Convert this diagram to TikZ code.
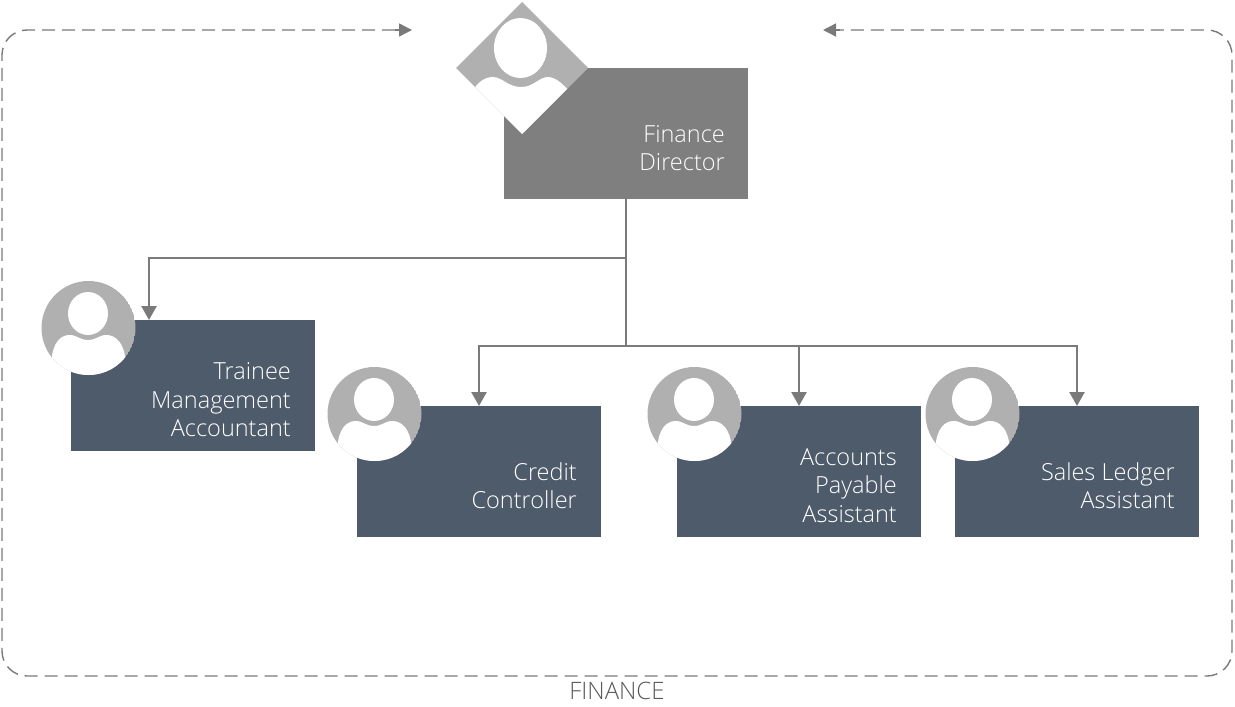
\documentclass[tikz,border=0pt]{standalone}
\usepackage{fontspec}
\setmainfont{Open Sans}[UprightFont=* Light]
\usetikzlibrary{arrows.meta,calc}
\definecolor{slate}{HTML}{4E5B6B}
\definecolor{dirgrey}{HTML}{7F7F7F}
\definecolor{icongrey}{HTML}{B0B0B0}
\definecolor{linegrey}{HTML}{7A7A7A}
\definecolor{captiongrey}{HTML}{595959}
\tikzset{
  orgbox/.style={fill=#1, draw=none, minimum width=244pt, minimum height=131pt, inner sep=0pt, outer sep=0pt, anchor=north west},
  orgtext/.style={text=white, font=\fontsize{23.5}{28.5}\selectfont, align=right, anchor=east, inner sep=0pt},
  conn/.style={draw=linegrey, line width=2.5pt},
  connarrow/.style={draw=linegrey, line width=2.5pt, -{Triangle[length=14pt,width=15pt]}},
  frame/.style={draw=linegrey, line width=1.4pt, dash pattern=on 13pt off 7pt, rounded corners=25pt},
  frameend/.style={draw=linegrey, line width=1.4pt, -{Triangle[length=13pt,width=13pt]}},
  iconfill/.style={fill=icongrey, draw=none},
  whitefill/.style={fill=white, draw=none}
}
\newcommand{\personicon}[3]{% x, y, radius
  \begin{scope}[shift={(#1,#2)}]
    \begin{scope}
      \clip (0,0) circle[radius=#3];
      \fill[iconfill] (0,0) circle[radius=#3];
      \fill[whitefill] (-0.5,-14.5) ellipse[x radius=20, y radius=21.5];
      \fill[whitefill] (-37,33) .. controls (-36,15) and (-28,7) .. (-19,7)
        .. controls (-11,7) and (-9,12) .. (-0.5,12)
        .. controls (8,12) and (10,7) .. (18,7)
        .. controls (27,7) and (36,15) .. (37,33)
        -- (60,60) -- (-60,60) -- cycle;
    \end{scope}
  \end{scope}
}
\begin{document}
\begin{tikzpicture}[x=1pt,y=-1pt]
\useasboundingbox (0,0) rectangle (1235,707);
% boxes
\node[orgbox=dirgrey] (dir) at (504,68) {};
\node[orgbox=slate] (trainee) at (71,320) {};
\node[orgbox=slate] (credit) at (357,406) {};
\node[orgbox=slate] (payable) at (677,406) {};
\node[orgbox=slate] (sales) at (955,406) {};
% connector helpers
\coordinate (traineein) at ($(trainee.north west)+(78,0)$);
\coordinate (bus) at ($(dir.south)+(0,147)$);
\coordinate (upper) at ($(dir.south)+(0,59)$);
% connectors
\draw[conn] (dir.south) -- (bus);
\draw[connarrow] (upper) -| (traineein);
\draw[connarrow] (bus) -| (credit.north);
\draw[connarrow] (bus) -| (payable.north);
\draw[connarrow] (bus) -| (sales.north);
% icons
\personicon{88.5}{328}{47}
\personicon{374.5}{414}{47}
\personicon{694.5}{414}{47}
\personicon{972.5}{414}{47}
\begin{scope}[shift={(522,68)}]
  \begin{scope}
    \clip (0,-66) -- (66,0) -- (0,66) -- (-66,0) -- cycle;
    \fill[iconfill] (-66,-66) rectangle (66,66);
    \fill[whitefill] (-1.5,-20) ellipse[x radius=26.5, y radius=30];
    \fill[whitefill] (-50,24) .. controls (-45,15) and (-38,9) .. (-29,9)
      .. controls (-20,9) and (-14,19) .. (-1,19)
      .. controls (12,19) and (17,9) .. (26,9)
      .. controls (33,9) and (40,15) .. (48,24)
      -- (80,80) -- (-80,80) -- cycle;
  \end{scope}
\end{scope}
% dashed frame
\coordinate (fl) at (412,30);
\coordinate (fr) at (823,30);
\coordinate (ftl) at (2,30);
\coordinate (fbl) at (2,676);
\coordinate (fbr) at (1232,676);
\coordinate (ftr) at (1232,30);
\coordinate (flstart) at (395,30);
\coordinate (frstart) at (840,30);
\draw[frame] (flstart) -- (ftl) -- (fbl) -- (fbr) -- (ftr) -- (frstart);
\draw[frameend] (flstart) -- (fl);
\draw[frameend] (frstart) -- (fr);
% texts
\node[orgtext] (dirtext) at (725,148) {Finance\\Director};
\node[orgtext] (traineetext) at (291,400) {Trainee\\Management\\Accountant};
\node[orgtext] (credittext) at (577,485.5) {Credit\\Controller};
\node[orgtext] (payabletext) at (897,485.5) {Accounts\\Payable\\Assistant};
\node[orgtext] (salestext) at (1175,485.5) {Sales Ledger\\Assistant};
\node[text=captiongrey, font=\fontsize{24}{28}\selectfont, inner sep=0pt] (caption) at (617,691) {FINANCE};
\end{tikzpicture}
\end{document}
